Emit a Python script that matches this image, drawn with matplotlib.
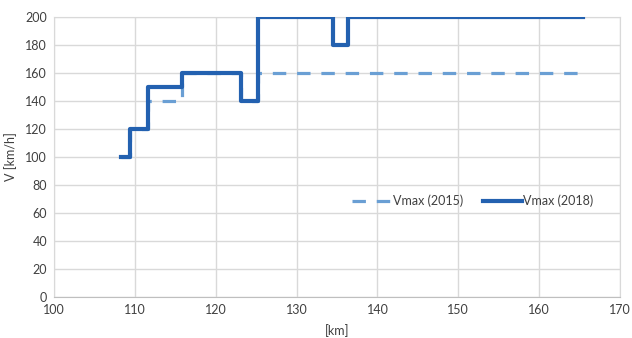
import matplotlib.pyplot as plt

plt.rcParams["font.family"] = ["Lato", "DejaVu Sans"]

# Streckenprofil der zulässigen Geschwindigkeit (Stufenfunktion)
km_2015 = [108.3, 109.4, 111.6, 115.8, 123.1, 125.2, 165.4]
vmax_2015 = [100, 120, 140, 160, 140, 160, 160]

km_2018 = [108.3, 109.4, 111.6, 115.8, 123.1, 125.2, 134.5, 136.3, 165.4]
vmax_2018 = [100, 120, 150, 160, 140, 200, 180, 200, 200]

COLOR_2015 = "#6a9fd4"
COLOR_2018 = "#2361b0"
COLOR_GRID = "#d9d9d9"
COLOR_TEXT = "#404040"

fig = plt.figure(figsize=(6.32, 3.38), dpi=100)
ax = fig.add_axes([54 / 632, 41 / 338, 566 / 632, 280 / 338])

ax.step(km_2015, vmax_2015, where="post", color=COLOR_2015, linewidth=2.3,
        dashes=(4.2, 3.4), label="Vmax (2015)", zorder=3)
ax.step(km_2018, vmax_2018, where="post", color=COLOR_2018, linewidth=3,
        label="Vmax (2018)", zorder=4)

ax.set_xlim(100, 170)
ax.set_ylim(0, 200)
ax.set_xticks(range(100, 171, 10))
ax.set_yticks(range(0, 201, 20))
ax.grid(True, color=COLOR_GRID, linewidth=1, zorder=0)
ax.set_axisbelow(True)

for spine in ax.spines.values():
    spine.set_color(COLOR_GRID)
ax.spines["bottom"].set_color("#bfbfbf")
ax.tick_params(length=0, labelsize=9, colors=COLOR_TEXT, pad=5)

ax.set_xlabel("[km]", fontsize=9, color=COLOR_TEXT, labelpad=6)
ax.set_ylabel("V [km/h]", fontsize=9, color=COLOR_TEXT, labelpad=6)

ax.legend(loc="center", bbox_to_anchor=(0.74, 0.343), ncol=2, frameon=False,
          fontsize=9, handlelength=3.1, handletextpad=0.15, columnspacing=1.6,
          labelcolor=COLOR_TEXT)

fig.savefig("out.png", dpi=100)
plt.close(fig)
